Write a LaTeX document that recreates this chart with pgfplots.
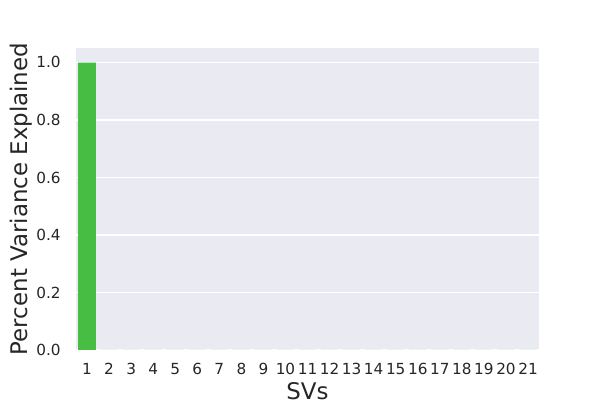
\documentclass[border=0pt]{standalone}
\usepackage{pgfplots}
\pgfplotsset{compat=1.18}
\usepackage{fontspec}
\setmainfont{DejaVu Sans}
\definecolor{bg}{HTML}{EAEAF2}
\definecolor{bargreen}{RGB}{72,189,68}
\definecolor{txt}{HTML}{262626}
\begin{document}
\begin{tikzpicture}[x=1pt,y=1pt]
\useasboundingbox (0,0) rectangle (432,288);
\begin{axis}[
  at={(54.72pt,36pt)}, anchor=south west,
  scale only axis, width=333.4pt, height=217.4pt,
  xmin=-0.5, xmax=20.5, ymin=0, ymax=1.05,
  axis background/.style={fill=bg},
  axis line style={draw=none},
  ytick={0,0.2,0.4,0.6,0.8,1.0},
  yticklabels={0.0,0.2,0.4,0.6,0.8,1.0},
  xtick={0,...,20},
  xticklabels={1,2,3,4,5,6,7,8,9,10,11,12,13,14,15,16,17,18,19,20,21},
  major tick length=0pt,
  ymajorgrids, grid style={white, line width=1pt},
  tick label style={font=\fontsize{11}{13}\selectfont, text=txt},
  /pgf/number format/assume math mode=true,
  xticklabel style={anchor=base, yshift=-17.5pt},
  yticklabel style={xshift=-7.5pt},
  xlabel={SVs}, ylabel={Percent Variance Explained},
  label style={font=\fontsize{16.5}{19}\selectfont, text=txt},
  xlabel style={yshift=1pt},
  ylabel style={yshift=-4pt},
]
\addplot[ybar, bar width=0.8, fill=bargreen, draw=none, bar shift=0pt] coordinates {
(0,0.9995) (1,0.0002) (2,0.0001) (3,0.00005) (4,0.00003) (5,0.00002) (6,0.00001)
(7,0) (8,0) (9,0) (10,0) (11,0) (12,0) (13,0) (14,0) (15,0) (16,0) (17,0) (18,0) (19,0) (20,0)
};
\end{axis}
\end{tikzpicture}
\end{document}
